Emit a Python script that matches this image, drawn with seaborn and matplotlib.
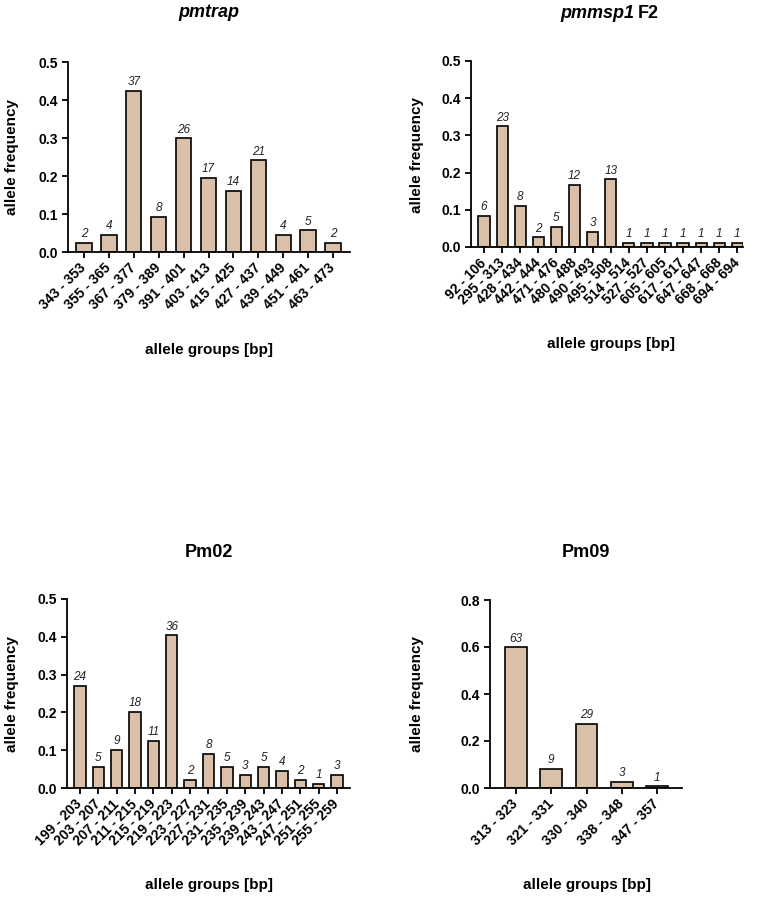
import matplotlib
matplotlib.use('Agg')
import matplotlib.pyplot as plt
import seaborn as sns

# allele groups, frequencies and counts per marker
pmtrap_groups = ['343 - 353', '355 - 365', '367 - 377', '379 - 389', '391 - 401', '403 - 413',
                 '415 - 425', '427 - 437', '439 - 449', '451 - 461', '463 - 473']
pmtrap_freq = [0.023, 0.046, 0.425, 0.092, 0.299, 0.195, 0.161, 0.241, 0.046, 0.057, 0.023]
pmtrap_n = [2, 4, 37, 8, 26, 17, 14, 21, 4, 5, 2]

pmmsp1_groups = ['92 - 106', '295 - 313', '428 - 434', '442 - 444', '471 - 476', '480 - 488',
                 '490 - 493', '495 - 508', '514 - 514', '527 - 527', '605 - 605', '617 - 617',
                 '647 - 647', '668 - 668', '694 - 694']
pmmsp1_freq = [0.083, 0.324, 0.111, 0.026, 0.055, 0.168, 0.040, 0.182,
               0.012, 0.012, 0.012, 0.012, 0.012, 0.012, 0.012]
pmmsp1_n = [6, 23, 8, 2, 5, 12, 3, 13, 1, 1, 1, 1, 1, 1, 1]

pm02_groups = ['199 - 203', '203 - 207', '207 - 211', '211 - 215', '215 - 219', '219 - 223',
               '223 - 227', '227 - 231', '231 - 235', '235 - 239', '239 - 243', '243 - 247',
               '247 - 251', '251 - 255', '255 - 259']
pm02_freq = [0.270, 0.056, 0.101, 0.202, 0.124, 0.404, 0.022, 0.090, 0.056, 0.034,
             0.056, 0.045, 0.022, 0.011, 0.034]
pm02_n = [24, 5, 9, 18, 11, 36, 2, 8, 5, 3, 5, 4, 2, 1, 3]

pm09_groups = ['313 - 323', '321 - 331', '330 - 340', '338 - 348', '347 - 357']
pm09_freq = [0.598, 0.082, 0.273, 0.025, 0.007]
pm09_n = [63, 9, 29, 3, 1]

W, H = 757, 898
BAR = '#DBC0A9'

sns.set_style('ticks')
plt.rcParams['font.family'] = ['Liberation Sans', 'DejaVu Sans']
plt.rcParams['text.color'] = 'black'
plt.rcParams['xtick.color'] = 'black'
plt.rcParams['ytick.color'] = 'black'
plt.rcParams['axes.labelcolor'] = 'black'

fig = plt.figure(figsize=(W / 100, H / 100), dpi=100)


def px(x, y):
    return x / W, 1 - y / H


def panel(rect, groups, freq, counts, xlim, ymax, ystep):
    l, t, r, b = rect
    ax = fig.add_axes([l / W, 1 - b / H, (r - l) / W, (b - t) / H])
    sns.barplot(x=groups, y=freq, ax=ax, color=BAR, saturation=1,
                edgecolor='black', linewidth=1.2, width=0.62)
    ax.bar_label(ax.containers[0], labels=[str(c) for c in counts], padding=2,
                 fontsize=8.5, fontstyle='italic', color='#222222')
    ax.set_xlim(*xlim)
    ax.set_ylim(0, ymax)
    yt = [i * ystep for i in range(int(round(ymax / ystep)) + 1)]
    ax.set_yticks(yt, [f'{v:.1f}' for v in yt], fontweight='bold', fontsize=10)
    ax.set_xticks(range(len(groups)), groups, rotation=45, ha='right', va='center',
                  rotation_mode='anchor', fontweight='bold', fontsize=10)
    ax.tick_params(width=1.3, length=4, color='black')
    ax.tick_params(axis='x', pad=6)
    sns.despine(ax=ax)
    for s in ['left', 'bottom']:
        ax.spines[s].set_linewidth(1.3)
        ax.spines[s].set_color('black')
    return ax


panel((68, 62, 350, 252), pmtrap_groups, pmtrap_freq, pmtrap_n, (-0.64, 10.68), 0.5, 0.1)
panel((471, 61, 743, 247), pmmsp1_groups, pmmsp1_freq, pmmsp1_n, (-0.72, 14.31), 0.5, 0.1)
panel((67, 599, 350, 788), pm02_groups, pm02_freq, pm02_n, (-0.71, 14.71), 0.5, 0.1)
panel((490, 600, 682, 788), pm09_groups, pm09_freq, pm09_n, (-0.74, 4.71), 0.8, 0.2)

# titles
fig.text(*px(209, 17), 'pmtrap', ha='center', va='baseline', fontsize=13,
         fontweight='bold', fontstyle='italic')
fig.text(*px(634, 18), 'pmmsp1', ha='right', va='baseline', fontsize=13,
         fontweight='bold', fontstyle='italic')
fig.text(*px(638, 18), 'F2', ha='left', va='baseline', fontsize=13, fontweight='bold')
fig.text(*px(209, 557), 'Pm02', ha='center', va='baseline', fontsize=13, fontweight='bold')
fig.text(*px(586, 557), 'Pm09', ha='center', va='baseline', fontsize=13, fontweight='bold')

# axis labels
for x, y in [(12, 157), (417, 155), (12, 694), (417, 694)]:
    fig.text(*px(x, y), 'allele frequency', rotation=90, ha='center', va='center',
             fontsize=11, fontweight='bold')
for x, y in [(209, 354), (611, 348), (209, 889), (587, 889)]:
    fig.text(*px(x, y), 'allele groups [bp]', ha='center', va='baseline',
             fontsize=11, fontweight='bold')

fig.savefig('out.png', dpi=100)
